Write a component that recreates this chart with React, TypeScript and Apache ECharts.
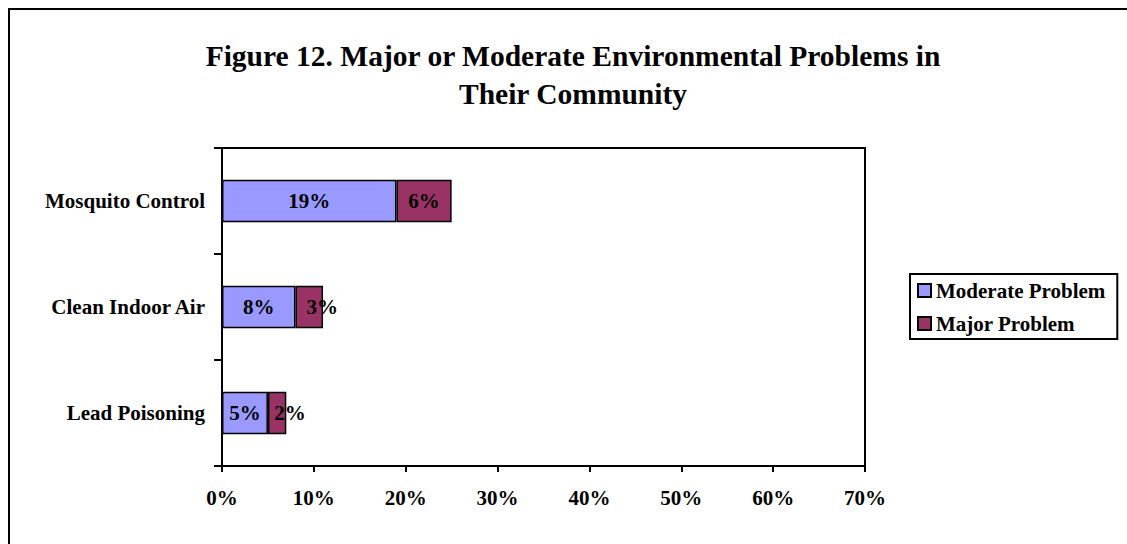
import React, { useEffect, useRef } from "react";
import * as echarts from "echarts";

// Survey categories, listed bottom-to-top as the category axis draws them
const categories = ["Lead Poisoning", "Clean Indoor Air", "Mosquito Control"];
// Percent of respondents
const moderateValues = [5, 8, 19];
const majorValues = [2, 3, 6];
const seriesNames = ["Moderate Problem", "Major Problem"];
const titleLines = [
  "Figure 12. Major or Moderate Environmental Problems in",
  "Their Community",
];

const FONT = "'Liberation Serif', 'Times New Roman', serif";
const LABEL_SIZE = 21;

export default function App() {
  const ref = useRef<HTMLDivElement>(null);

  useEffect(() => {
    // the page is laid out explicitly inside a clipped 1127x544 box
    document.body.style.margin = "0";
    document.body.style.overflow = "hidden";

    if (!ref.current) return;
    const chart = echarts.init(ref.current, null, { renderer: "svg" });

    const labelStyle = {
      show: true,
      color: "#000",
      fontFamily: FONT,
      fontWeight: "bold" as const,
      fontSize: LABEL_SIZE,
      formatter: (p: any) => `${p.value}%`,
    };

    // Narrow segments get their label nudged to the right, as the original spreadsheet did
    const majorData = majorValues.map((v) => ({
      value: v,
      label: v < 5 ? { offset: [13, 0] } : undefined,
    }));

    chart.setOption({
      animation: false,
      backgroundColor: "#fff",
      title: {
        text: titleLines.join("\n"),
        left: 560,
        top: 24,
        textAlign: "center",
        textStyle: {
          fontFamily: FONT,
          fontWeight: "bold",
          fontSize: 29.5,
          lineHeight: 38,
          color: "#000",
        },
      },
      legend: {
        orient: "vertical",
        left: 902,
        top: 266,
        padding: [6, 12, 5, 7],
        borderColor: "#000",
        borderWidth: 2,
        itemWidth: 13,
        itemHeight: 13,
        itemGap: 12,
        icon: "rect",
        data: seriesNames,
        textStyle: {
          fontFamily: FONT,
          fontWeight: "bold",
          fontSize: LABEL_SIZE,
          color: "#000",
        },
      },
      grid: {
        left: 214,
        right: 262,
        top: 140,
        bottom: 78,
        show: true,
        borderColor: "#000",
        borderWidth: 2,
        containLabel: false,
      },
      xAxis: {
        type: "value",
        min: 0,
        max: 70,
        interval: 10,
        splitLine: { show: false },
        axisLine: { show: true, lineStyle: { color: "#000", width: 2 } },
        axisTick: { show: true, length: 6, lineStyle: { color: "#000", width: 2 } },
        axisLabel: {
          margin: 21,
          color: "#000",
          fontFamily: FONT,
          fontWeight: "bold",
          fontSize: LABEL_SIZE,
          formatter: "{value}%",
        },
      },
      yAxis: {
        type: "category",
        data: categories,
        axisLine: { show: true, lineStyle: { color: "#000", width: 2 } },
        axisTick: { show: true, length: 8, lineStyle: { color: "#000", width: 2 } },
        axisLabel: {
          margin: 17,
          color: "#000",
          fontFamily: FONT,
          fontWeight: "bold",
          fontSize: LABEL_SIZE,
        },
      },
      series: [
        {
          name: seriesNames[0],
          type: "bar",
          stack: "total",
          barWidth: "40%",
          data: moderateValues,
          itemStyle: { color: "#9999FF", borderColor: "#000", borderWidth: 1.5 },
          label: { ...labelStyle, position: "inside" },
        },
        {
          name: seriesNames[1],
          type: "bar",
          stack: "total",
          barWidth: "40%",
          data: majorData,
          itemStyle: { color: "#993366", borderColor: "#000", borderWidth: 1.5 },
          label: { ...labelStyle, position: "inside" },
        },
      ],
    });

    return () => chart.dispose();
  }, []);

  return (
    <div
      style={{
        position: "relative",
        width: 1127,
        height: 544,
        overflow: "hidden",
        background: "#fff",
      }}
    >
      <div
        ref={ref}
        style={{ position: "absolute", left: 8, top: 8, width: 1119, height: 536 }}
      />
      {/* outer frame: its right and bottom edges lie past the clipped box */}
      <div
        style={{
          position: "absolute",
          left: 8,
          top: 8,
          width: 1140,
          height: 560,
          border: "2px solid #000",
          boxSizing: "border-box",
          pointerEvents: "none",
        }}
      />
    </div>
  );
}
